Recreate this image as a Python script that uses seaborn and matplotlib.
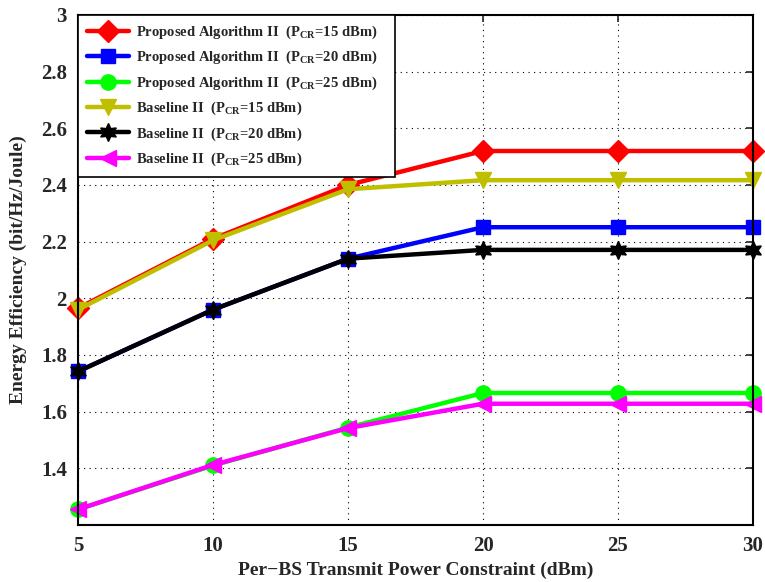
import matplotlib
matplotlib.use("Agg")
import matplotlib.pyplot as plt
import seaborn as sns
import pandas as pd
from matplotlib.ticker import FuncFormatter

x_power = [5, 10, 15, 20, 25, 30]
prop_15 = [1.965, 2.21, 2.40, 2.52, 2.52, 2.52]
prop_20 = [1.742, 1.96, 2.14, 2.251, 2.251, 2.251]
prop_25 = [1.255, 1.41, 1.544, 1.666, 1.666, 1.666]
base_15 = [1.96, 2.205, 2.385, 2.417, 2.417, 2.417]
base_20 = [1.742, 1.96, 2.14, 2.171, 2.171, 2.171]
base_25 = [1.255, 1.412, 1.542, 1.628, 1.628, 1.628]

labels = [
    r"Proposed Algorithm II  (P$_{\rm CR}$=15 dBm)",
    r"Proposed Algorithm II  (P$_{\rm CR}$=20 dBm)",
    r"Proposed Algorithm II  (P$_{\rm CR}$=25 dBm)",
    r"Baseline II  (P$_{\rm CR}$=15 dBm)",
    r"Baseline II  (P$_{\rm CR}$=20 dBm)",
    r"Baseline II  (P$_{\rm CR}$=25 dBm)",
]
series = [prop_15, prop_20, prop_25, base_15, base_20, base_25]
colors = ["#FF0000", "#0000FF", "#00FF00", "#BFBF00", "#000000", "#FF00FF"]
markers = ["D", "s", "o", "v", (6, 1, 0), "<"]
msizes = [11, 10, 11, 12, 13, 12]

sns.set_style("white")
plt.rcParams["font.family"] = ["Liberation Serif", "DejaVu Serif"]
plt.rcParams["font.weight"] = "bold"
plt.rcParams["mathtext.fontset"] = "custom"
plt.rcParams["mathtext.rm"] = "Liberation Serif:bold"
plt.rcParams["mathtext.it"] = "Liberation Serif:italic:bold"
plt.rcParams["mathtext.bf"] = "Liberation Serif:bold"

fig = plt.figure(figsize=(7.65, 5.82), dpi=100)
ax = fig.add_axes([78 / 765, 1 - 525 / 582, (753 - 78) / 765, (525 - 15) / 582])

for lab, vals, c, m, ms in zip(labels, series, colors, markers, msizes):
    df = pd.DataFrame({"x": x_power, "y": vals})
    sns.lineplot(data=df, x="x", y="y", ax=ax, color=c, marker=m, markersize=ms,
                 markeredgecolor=c, markeredgewidth=1, linewidth=3.2, label=lab + "   ",
                 clip_on=False)

ax.set_xlim(5, 30)
ax.set_ylim(1.2, 3.0)
ax.set_xticks(x_power)
ax.set_yticks([1.4, 1.6, 1.8, 2.0, 2.2, 2.4, 2.6, 2.8, 3.0])
ax.yaxis.set_major_formatter(FuncFormatter(lambda v, p: "%g" % round(v, 2)))
ax.tick_params(direction="in", length=5, width=1.2, labelsize=15, top=True, right=True,
               pad=8)
for t in ax.get_xticklabels() + ax.get_yticklabels():
    t.set_fontweight("bold")
ax.grid(True, linestyle=(0, (1, 4)), color="black", linewidth=0.8)
for s in ax.spines.values():
    s.set_linewidth(1.5)
    s.set_color("black")
    s.set_visible(True)

ax.set_xlabel("Per\u2212BS Transmit Power Constraint (dBm)", fontsize=14, fontweight="bold", labelpad=4)
ax.set_ylabel("Energy Efficiency (bit/Hz/Joule)", fontsize=14, fontweight="bold", labelpad=10)

leg = ax.legend(loc="upper left", frameon=True, fancybox=False, framealpha=1,
                borderaxespad=0, handlelength=2.9, handletextpad=0.5,
                labelspacing=0.55, borderpad=0.6,
                prop={"weight": "bold", "size": 10.5})
leg.get_frame().set_edgecolor("black")
leg.get_frame().set_linewidth(1.2)
leg.set_zorder(10)

fig.savefig("out.png", dpi=100)
